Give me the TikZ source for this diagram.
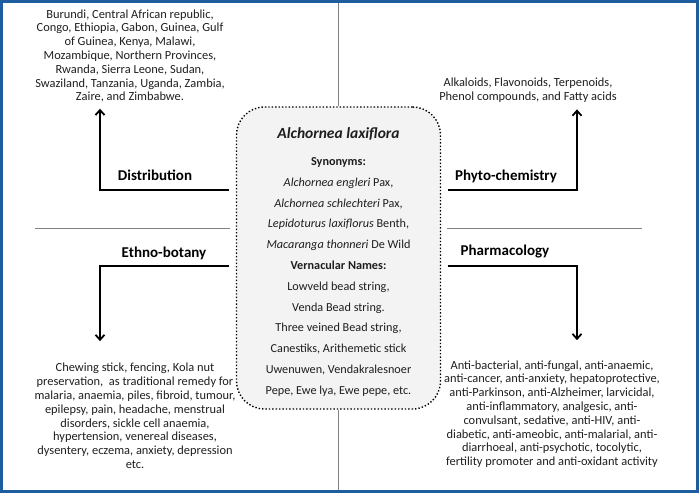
\documentclass[tikz,border=0pt]{standalone}
\usepackage{fontspec}
\setmainfont{Carlito}
\usetikzlibrary{arrows.meta,positioning}

\definecolor{frameblue}{RGB}{31,94,158}
\definecolor{boxgray}{RGB}{243,243,243}
\definecolor{inktext}{RGB}{30,30,30}

\begin{document}
\begin{tikzpicture}[x=1pt, y=-1pt]
		\tikzstyle{Plant}	= [draw, dotted, line width=1.4pt, rounded corners=28pt, fill=boxgray, minimum width=204pt, minimum height=302pt, inner sep=0pt]
		\tikzstyle{Names}	= [align=center, inner sep=0pt, text=inktext, font=\fontsize{12.2}{20.8}\selectfont]
		\tikzstyle{Head}	= [inner sep=0pt, font=\fontsize{15}{17}\selectfont\bfseries]
		\tikzstyle{Info}	= [align=center, inner sep=0pt, text=inktext, font=\fontsize{12.4}{13.8}\selectfont]
		\tikzstyle{Link}	= [line width=1.8pt, -{Straight Barb[length=5pt, width=9pt]}]
		\tikzstyle{Sep}		= [draw=gray, line width=0.9pt]

		\useasboundingbox (0,0) rectangle (699,493);
		\draw [frameblue, line width=2.4pt] (1.5,1.5) rectangle (697.5,491.5);

		\node (plant) at (338.5,258) [Plant] {};
		\node (names) at (338.5,262) [Names] {{\fontsize{15.5}{17}\selectfont\bfseries\itshape Alchornea laxiflora}\\[6pt]
			\textbf{Synonyms:}\\
			\textit{Alchornea engleri} Pax,\\
			\textit{Alchornea schlechteri} Pax,\\
			\textit{Lepidoturus laxiflorus} Benth,\\
			\textit{Macaranga thonneri} De Wild\\
			\textbf{Vernacular Names:}\\
			Lowveld bead string,\\
			Venda Bead string.\\
			Three veined Bead string,\\
			Canestiks, Arithemetic stick\\
			Uwenuwen, Vendakralesnoer\\
			Pepe, Ewe lya, Ewe pepe, etc.};

		\node (dist)   at (155,175) [Head] {Distribution};
		\node (ethno)  at (164,253) [Head] {Ethno-botany};
		\node (phyto)  at (506,176) [Head] {Phyto-chemistry};
		\node (pharma) at (505,252) [Head] {Pharmacology};

		\node (disttext) at (130,56) [Info] {Burundi, Central African republic,\\
			Congo, Ethiopia, Gabon, Guinea, Gulf\\
			of Guinea, Kenya, Malawi,\\
			Mozambique, Northern Provinces,\\
			Rwanda, Sierra Leone, Sudan,\\
			Swaziland, Tanzania, Uganda, Zambia,\\
			Zaire, and Zimbabwe.};
		\node (phytotext) at (528,90) [Info] {Alkaloids, Flavonoids, Terpenoids,\\
			Phenol compounds, and Fatty acids};
		\node (ethnotext) at (135,416) [Info] {Chewing stick, fencing, Kola nut\\
			preservation,~ as traditional remedy for\\
			malaria, anaemia, piles, fibroid, tumour,\\
			epilepsy, pain, headache, menstrual\\
			disorders, sickle cell anaemia,\\
			hypertension, venereal diseases,\\
			dysentery, eczema, anxiety, depression\\
			etc.};
		\node (pharmatext) at (552,414) [Info] {Anti-bacterial, anti-fungal, anti-anaemic,\\
			anti-cancer, anti-anxiety, hepatoprotective,\\
			anti-Parkinson, anti-Alzheimer, larvicidal,\\
			anti-inflammatory, analgesic, anti-\\
			convulsant, sedative, anti-HIV, anti-\\
			diabetic, anti-ameobic, anti-malarial, anti-\\
			diarrhoeal, anti-psychotic, tocolytic,\\
			fertility promoter and anti-oxidant activity};

		\coordinate (top) at (338.5,3);
		\coordinate (bottom) at (338.5,490);
		\coordinate (dturn) at (100,190);
		\coordinate (eturn) at (100,266);
		\coordinate (pturn) at (577,190);
		\coordinate (mturn) at (577,266);

		% stem through the centre
		\draw [-] (top) to (plant.north) [Sep];
		\draw [-] (plant.south) to (bottom) [Sep];

		% separators between the quarters
		\draw [-] (35,228) to (230,228) [Sep];
		\draw [-] (447,228) to (642,228) [Sep];

		\draw ([xshift=-6.5pt]plant.west |- dturn) -- (dturn) -- (dturn |- disttext.south) [Link, shorten >=6pt];
		\draw ([xshift=-6.5pt]plant.west |- eturn) -- (eturn) -- (eturn |- ethnotext.north) [Link, shorten >=22pt];
		\draw ([xshift=6.5pt]plant.east |- pturn) -- (pturn) -- (pturn |- phytotext.south) [Link, shorten >=7pt];
		\draw ([xshift=6.5pt]plant.east |- mturn) -- (mturn) -- (mturn |- pharmatext.north) [Link, shorten >=20pt];
	\end{tikzpicture}
\end{document}
